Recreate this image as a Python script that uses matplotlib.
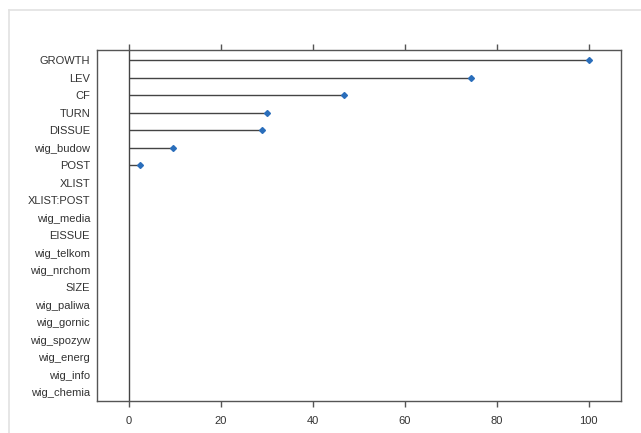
import matplotlib
matplotlib.use("Agg")
import matplotlib.pyplot as plt
from matplotlib.lines import Line2D

# variable importance (top to bottom)
variables = ["GROWTH", "LEV", "CF", "TURN", "DISSUE", "wig_budow", "POST",
             "XLIST", "XLIST:POST", "wig_media", "EISSUE", "wig_telkom",
             "wig_nrchom", "SIZE", "wig_paliwa", "wig_gornic", "wig_spozyw",
             "wig_energ", "wig_info", "wig_chemia"]
importance = [100, 74.3, 46.7, 29.9, 29.0, 9.6, 2.4,
              0, 0, 0, 0, 0, 0, 0, 0, 0, 0, 0, 0, 0]
xticks = [0, 20, 40, 60, 80, 100]

plt.rcParams['font.family'] = ['Liberation Sans', 'DejaVu Sans']

fig = plt.figure(figsize=(6.41, 4.33), dpi=100)
ax = fig.add_axes([97 / 641, 1 - 401 / 433, 524 / 641, 351 / 433])

ypos = list(range(len(variables)))
ax.axvline(0, color="#444444", lw=1, zorder=1)
ax.hlines(ypos, 0, importance, color="#444444", lw=1, zorder=2)
shown = [(v, y) for v, y in zip(importance, ypos) if v > 0]
ax.plot([v for v, _ in shown], [y for _, y in shown], "D", ms=3,
        color="#2a6ebb", zorder=3)

ax.set_xlim(-7, 107)
ax.set_ylim(19.5, -0.6)
ax.set_xticks(xticks)
ax.set_yticks(ypos)
ax.set_yticklabels(variables)
ax.tick_params(axis="x", top=True, bottom=True, labeltop=False,
               direction="out", length=4.5, width=1, color="#555555",
               labelsize=8, labelcolor="#333333", pad=6)
ax.tick_params(axis="y", length=0, labelsize=8, labelcolor="#333333", pad=5)
for s in ax.spines.values():
    s.set_color("#555555")
    s.set_linewidth(1)

# light frame around the picture
fig.add_artist(Line2D([9 / 641, 9 / 641], [0, 1 - 10 / 433],
                      transform=fig.transFigure, color="#e2e2e2", lw=1.2))
fig.add_artist(Line2D([9 / 641, 1], [1 - 10 / 433, 1 - 10 / 433],
                      transform=fig.transFigure, color="#e2e2e2", lw=1.2))

fig.savefig("out.png", dpi=100)
